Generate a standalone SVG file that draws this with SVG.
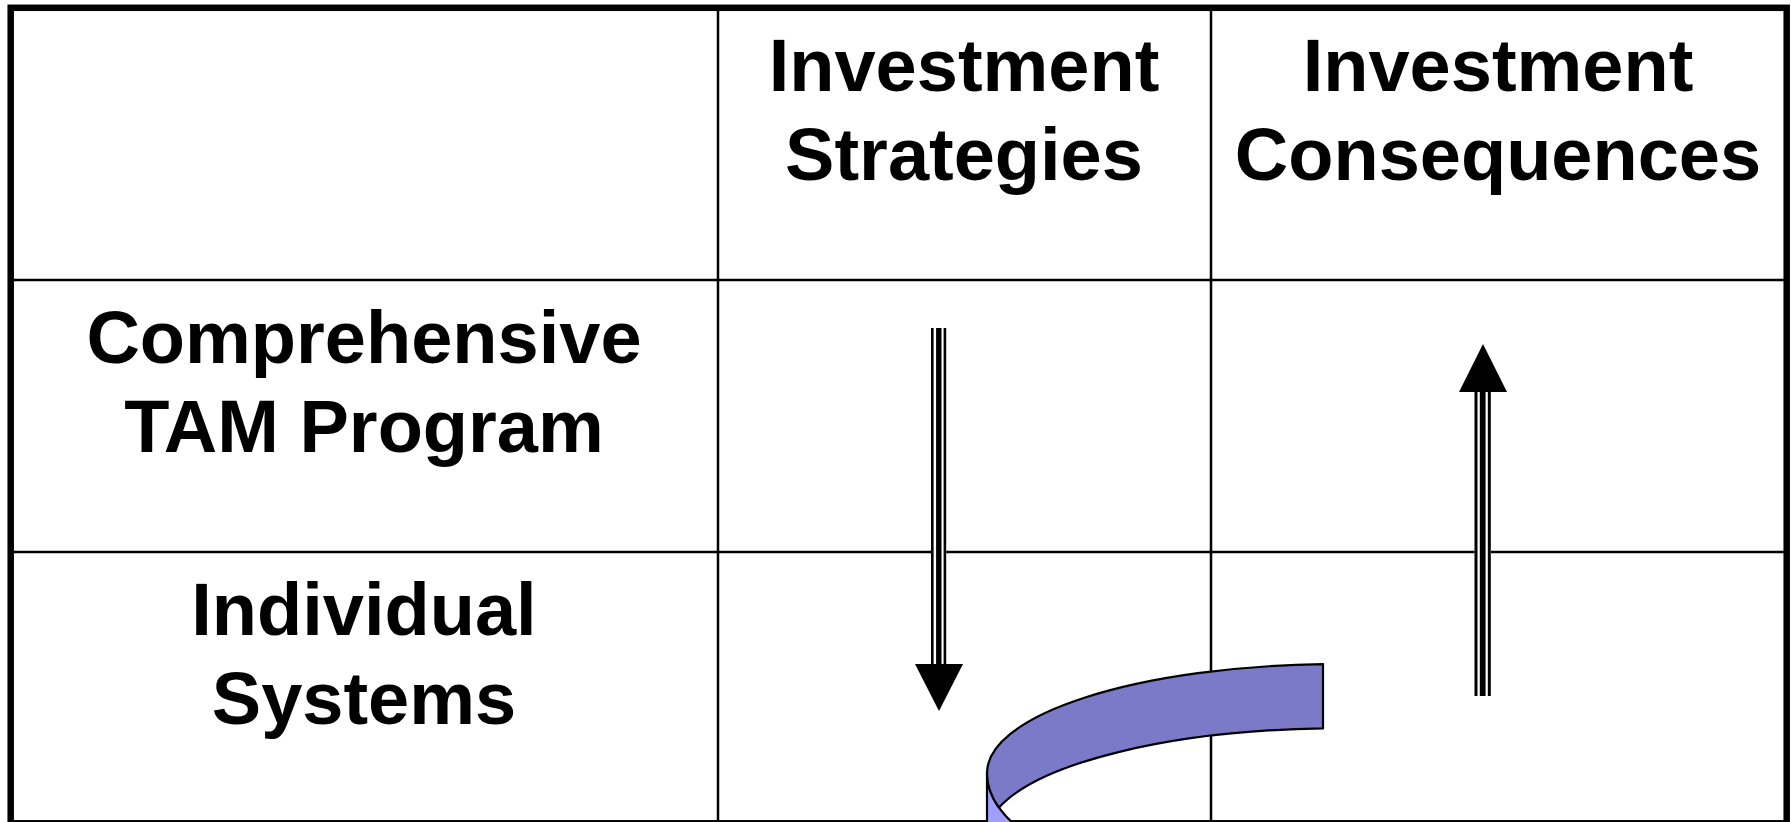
<svg xmlns="http://www.w3.org/2000/svg" width="1791" height="822" viewBox="0 0 1791 822">
  <style>
    .lbl { font-family: "Liberation Sans", Arial, sans-serif; font-weight: bold; font-size: 74px; fill: #000; text-anchor: middle; }
    .grid { stroke: #000; stroke-width: 2.5; fill: none; }
    .border { stroke: #000; stroke-width: 6.5; fill: none; }
    .bar { fill: #000; }
    .gap { fill: #fff; }
    .head { fill: #000; }
    .rib-dark { fill: #7A7AC8; stroke: #000; stroke-width: 2.2; stroke-linejoin: round; }
    .rib-light { fill: #9F9FFF; stroke: #000; stroke-width: 2.2; stroke-linejoin: round; }
  </style>
  <rect x="0" y="0" width="1791" height="822" fill="#fff"/>

  <g id="table">
    <line class="grid" x1="718" y1="8" x2="718" y2="822"/>
    <line class="grid" x1="1211" y1="8" x2="1211" y2="822"/>
    <line class="grid" x1="10.5" y1="280" x2="1786.5" y2="280"/>
    <line class="grid" x1="10.5" y1="552" x2="1786.5" y2="552"/>
    <rect class="border" x="10.7" y="7.8" width="1776" height="815.5"/>
  </g>

  <g id="header-strategies">
    <text class="lbl" x="964" y="91">Investment</text>
    <text class="lbl" x="964" y="180">Strategies</text>
  </g>
  <g id="header-consequences">
    <text class="lbl" x="1498" y="91">Investment</text>
    <text class="lbl" x="1498" y="180">Consequences</text>
  </g>
  <g id="row-comprehensive">
    <text class="lbl" x="364" y="363">Comprehensive</text>
    <text class="lbl" x="364" y="452">TAM Program</text>
  </g>
  <g id="row-individual">
    <text class="lbl" x="364" y="635">Individual</text>
    <text class="lbl" x="364" y="724">Systems</text>
  </g>

  <g id="connectors">
    <g id="arrow-down">
      <rect class="gap" x="931" y="328" width="15.2" height="337"/>
      <rect class="bar" x="931" y="328" width="2.6" height="337"/>
      <rect class="bar" x="936.1" y="328" width="5.4" height="337"/>
      <rect class="bar" x="943.6" y="328" width="2.6" height="337"/>
      <polygon class="head" points="915,664 963,664 939,711"/>
    </g>
    <g id="arrow-up">
      <rect class="gap" x="1474.5" y="391" width="16.4" height="305"/>
      <rect class="bar" x="1474.5" y="391" width="3" height="305"/>
      <rect class="bar" x="1479.8" y="391" width="5.8" height="305"/>
      <rect class="bar" x="1487.8" y="391" width="3" height="305"/>
      <polygon class="head" points="1459,392 1507,392 1483,344"/>
    </g>
  </g>

  <g id="ribbon">
    <path class="rib-light" d="M 987 773 C 987 795 1000 812 1016 826 L 987 826 Z"/>
    <path class="rib-dark" d="M 1323 664.1 A 353 109 0 0 0 987 773 C 987 786.2 991.7 797.6 998.9 807.6 A 353 109 0 0 1 1323 728.4 Z"/>
  </g>
</svg>
